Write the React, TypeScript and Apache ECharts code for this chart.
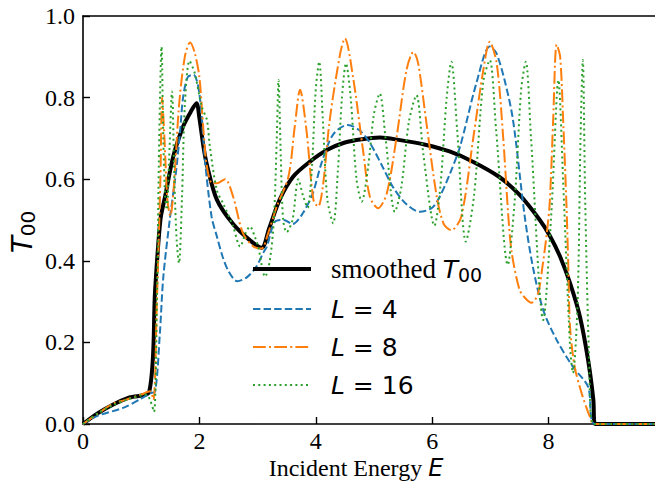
import React, { useEffect, useRef } from 'react';
import * as echarts from 'echarts';

const xTicks = [0, 2, 4, 6, 8];
const yTicks = [0, 0.2, 0.4, 0.6, 0.8, 1.0];

const smoothedT00 = [
  [0, 0], [0.25, 0.026], [0.52, 0.048], [0.8, 0.065], [1.14, 0.08], [1.24, 0.33], [1.33, 0.5],
  [1.41, 0.557], [1.55, 0.655], [1.72, 0.729], [1.85, 0.765], [1.95, 0.786], [2.0, 0.75],
  [2.07, 0.68], [2.13, 0.635], [2.3, 0.55], [2.58, 0.49], [2.87, 0.45], [3.07, 0.432],
  [3.2, 0.48], [3.38, 0.55], [3.61, 0.606], [3.9, 0.643], [4.2, 0.672], [4.5, 0.69],
  [4.8, 0.698], [5.1, 0.702], [5.4, 0.697], [5.9, 0.684], [6.3, 0.668], [6.7, 0.643],
  [7.15, 0.606], [7.5, 0.562], [7.85, 0.5], [8.02, 0.462], [8.2, 0.41], [8.37, 0.345],
  [8.54, 0.263], [8.68, 0.157], [8.77, 0.06], [8.8, 0], [9.83, 0],
];

const L4 = [
  [0, 0], [0.25, 0.02], [0.7, 0.04], [1.0, 0.062], [1.15, 0.075], [1.24, 0.08], [1.32, 0.22],
  [1.38, 0.36], [1.49, 0.5], [1.6, 0.62], [1.67, 0.72], [1.72, 0.8], [1.8, 0.85], [1.9, 0.856],
  [2.0, 0.81], [2.1, 0.64], [2.21, 0.508], [2.3, 0.46], [2.4, 0.41], [2.5, 0.375], [2.65, 0.35],
  [2.82, 0.36], [2.98, 0.386], [3.1, 0.42], [3.16, 0.435], [3.3, 0.496], [3.45, 0.5], [3.6, 0.49],
  [3.78, 0.517], [3.95, 0.566], [4.1, 0.64], [4.3, 0.71], [4.55, 0.733], [4.75, 0.72],
  [4.93, 0.689], [5.15, 0.63], [5.33, 0.58], [5.55, 0.54], [5.79, 0.52], [6.0, 0.53],
  [6.13, 0.557], [6.31, 0.615], [6.48, 0.68], [6.76, 0.835], [6.99, 0.925], [7.1, 0.91],
  [7.25, 0.84], [7.39, 0.745], [7.59, 0.51], [7.73, 0.386], [7.91, 0.279], [8.14, 0.206],
  [8.42, 0.14], [8.68, 0.091], [8.8, 0], [9.83, 0],
];

const L8 = [
  [0, 0], [0.25, 0.025], [0.52, 0.05], [0.7, 0.058], [1.0, 0.072], [1.15, 0.08], [1.21, 0.059],
  [1.27, 0.3], [1.33, 0.6], [1.36, 0.8], [1.4, 0.7], [1.45, 0.55], [1.5, 0.51], [1.56, 0.58],
  [1.65, 0.78], [1.75, 0.9], [1.84, 0.935], [1.92, 0.91], [2.0, 0.85], [2.07, 0.72], [2.13, 0.63],
  [2.22, 0.59], [2.3, 0.59], [2.44, 0.6], [2.58, 0.557], [2.75, 0.467], [2.93, 0.435],
  [3.07, 0.43], [3.18, 0.467], [3.33, 0.533], [3.53, 0.606], [3.64, 0.73], [3.73, 0.819],
  [3.84, 0.72], [3.96, 0.549], [4.04, 0.533], [4.12, 0.58], [4.24, 0.745], [4.42, 0.908],
  [4.5, 0.945], [4.64, 0.851], [4.82, 0.663], [4.93, 0.557], [5.07, 0.529], [5.22, 0.565],
  [5.39, 0.704], [5.56, 0.868], [5.68, 0.912], [5.76, 0.884], [5.91, 0.729], [6.08, 0.557],
  [6.2, 0.49], [6.33, 0.475], [6.5, 0.508], [6.71, 0.704], [6.88, 0.868], [6.99, 0.937],
  [7.11, 0.884], [7.22, 0.704], [7.31, 0.508], [7.37, 0.418], [7.5, 0.33], [7.59, 0.31],
  [7.71, 0.297], [7.82, 0.32], [7.9, 0.39], [7.97, 0.467], [8.02, 0.54], [8.08, 0.745],
  [8.14, 0.93], [8.2, 0.9], [8.25, 0.75], [8.31, 0.53], [8.34, 0.386], [8.37, 0.238],
  [8.45, 0.14], [8.57, 0.075], [8.71, 0.018], [8.78, 0], [9.83, 0],
];

const L16 = [
  [0, 0], [0.25, 0.026], [0.5, 0.045], [0.8, 0.062], [1.0, 0.07], [1.09, 0.072], [1.15, 0.06],
  [1.22, 0.03], [1.27, 0.3], [1.31, 0.7], [1.35, 0.925], [1.38, 0.7], [1.41, 0.56], [1.44, 0.525],
  [1.48, 0.65], [1.53, 0.815], [1.57, 0.6], [1.61, 0.45], [1.65, 0.394], [1.7, 0.55], [1.75, 0.78],
  [1.83, 0.89], [1.92, 0.86], [2.04, 0.778], [2.13, 0.745], [2.18, 0.68], [2.3, 0.573],
  [2.41, 0.54], [2.58, 0.484], [2.7, 0.435], [2.8, 0.47], [2.87, 0.484], [2.95, 0.46],
  [3.01, 0.435], [3.13, 0.361], [3.21, 0.4], [3.28, 0.5], [3.33, 0.7], [3.36, 0.843], [3.4, 0.65],
  [3.44, 0.5], [3.5, 0.47], [3.6, 0.5], [3.7, 0.6], [3.78, 0.56], [3.86, 0.53], [3.93, 0.62],
  [4.0, 0.82], [4.06, 0.888], [4.12, 0.75], [4.2, 0.55], [4.3, 0.492], [4.38, 0.62], [4.45, 0.8],
  [4.52, 0.884], [4.6, 0.8], [4.7, 0.6], [4.79, 0.545], [4.9, 0.63], [5.0, 0.76], [5.1, 0.81],
  [5.2, 0.7], [5.36, 0.52], [5.47, 0.58], [5.6, 0.74], [5.73, 0.806], [5.85, 0.66], [6.04, 0.486],
  [6.14, 0.58], [6.25, 0.8], [6.33, 0.888], [6.43, 0.72], [6.58, 0.447], [6.72, 0.56],
  [6.88, 0.84], [6.99, 0.892], [7.1, 0.72], [7.3, 0.39], [7.42, 0.55], [7.53, 0.82],
  [7.61, 0.888], [7.7, 0.7], [7.91, 0.255], [8.05, 0.52], [8.17, 0.843], [8.25, 0.6],
  [8.37, 0.19], [8.42, 0.125], [8.5, 0.3], [8.55, 0.7], [8.59, 0.892], [8.63, 0.55],
  [8.7, 0.15], [8.77, 0], [9.83, 0],
];

const legendLabels = ['smoothed ', 'L', 'L', 'L'];
const legendValues = ['', ' = 4', ' = 8', ' = 16'];

const SERIF = '"Liberation Serif", "Times New Roman", serif';
const MATH = '"DejaVu Sans", sans-serif';

export default function App() {
  const ref = useRef<HTMLDivElement>(null);
  useEffect(() => {
    const chart = echarts.init(ref.current as HTMLDivElement, null, { renderer: 'svg' });
    const X0 = 83;
    const legendX1 = 253;
    const legendX2 = 311;
    const legendTextX = 331;
    const rowsY = [269, 309, 347, 385];
    const colors = ['#000000', '#1f77b4', '#ff7f0e', '#2ca02c'];
    const dashes: any[] = [null, [7.4, 3.2], [12.8, 3.2, 2, 3.2], [2, 3.3]];
    const widths = [4, 2, 2, 2];

    const legendGraphics: any[] = [];
    rowsY.forEach((y, i) => {
      legendGraphics.push({
        type: 'line',
        shape: { x1: legendX1, y1: y, x2: legendX2, y2: y },
        style: { stroke: colors[i], lineWidth: widths[i], lineDash: dashes[i] || undefined },
        z: 100,
      });
      const text =
        i === 0
          ? `{s|${legendLabels[0]}}{m|T}{sub|00}`
          : `{m|${legendLabels[i]}}{r|${legendValues[i]}}`;
      legendGraphics.push({
        type: 'text',
        x: legendTextX,
        y: y,
        style: {
          text,
          verticalAlign: 'middle',
          align: 'left',
          fill: '#000',
          rich: {
            s: { fontFamily: SERIF, fontSize: 27, lineHeight: 30, fill: '#000', verticalAlign: 'middle' },
            m: { fontFamily: MATH, fontStyle: 'italic', fontSize: 25, lineHeight: 30, fill: '#000', verticalAlign: 'middle' },
            r: { fontFamily: MATH, fontSize: 25, lineHeight: 30, fill: '#000', verticalAlign: 'middle' },
            sub: { fontFamily: MATH, fontSize: 19, lineHeight: 16, fill: '#000', verticalAlign: 'bottom' },
          },
        },
        z: 100,
      });
    });

    const mkSeries = (name: string, data: number[][], i: number) => ({
      name,
      type: 'line',
      data,
      showSymbol: false,
      smooth: 0.3,
      clip: true,
      lineStyle: { color: colors[i], width: widths[i], type: dashes[i] || 'solid', cap: 'butt' },
      itemStyle: { color: colors[i] },
      z: 2 + i,
    });

    chart.setOption({
      animation: false,
      backgroundColor: '#ffffff',
      grid: { left: X0, top: 16, right: 0, bottom: 63, containLabel: false },
      xAxis: [
        {
          type: 'value',
          min: 0,
          max: 9.83,
          axisLine: { show: true, onZero: false, lineStyle: { color: '#000', width: 1.6 } },
          axisTick: { show: true, inside: true, length: 7, customValues: xTicks, lineStyle: { color: '#000', width: 1.4 } },
          axisLabel: {
            show: true,
            customValues: xTicks,
            formatter: (v: number) => String(v),
            fontFamily: SERIF,
            fontSize: 24,
            lineHeight: 20,
            color: '#000',
            margin: 7,
          },
          splitLine: { show: false },
        },
        {
          type: 'value',
          position: 'top',
          min: 0,
          max: 9.83,
          axisLine: { show: true, onZero: false, lineStyle: { color: '#000', width: 1.6 } },
          axisTick: { show: false },
          axisLabel: { show: false },
          splitLine: { show: false },
        },
      ],
      yAxis: {
        type: 'value',
        min: 0,
        max: 1,
        axisLine: { show: true, onZero: false, lineStyle: { color: '#000', width: 1.6 } },
        axisTick: { show: true, inside: true, length: 7, customValues: yTicks, lineStyle: { color: '#000', width: 1.4 } },
        axisLabel: {
          show: true,
          customValues: yTicks,
          formatter: (v: number) => v.toFixed(1),
          fontFamily: SERIF,
          fontSize: 24,
          lineHeight: 20,
          color: '#000',
          margin: 8,
        },
        splitLine: { show: false },
      },
      series: [
        mkSeries('smoothed T00', smoothedT00, 0),
        mkSeries('L = 4', L4, 1),
        mkSeries('L = 8', L8, 2),
        mkSeries('L = 16', L16, 3),
      ],
      graphic: [
        ...legendGraphics,
        {
          type: 'text',
          x: 356,
          y: 468,
          style: {
            text: '{s|Incident Energy }{m|E}',
            align: 'center',
            verticalAlign: 'middle',
            rich: {
              s: { fontFamily: SERIF, fontSize: 24, fill: '#000', lineHeight: 22 },
              m: { fontFamily: MATH, fontStyle: 'italic', fontSize: 24, fill: '#000', lineHeight: 22 },
            },
          },
        },
        {
          type: 'text',
          x: 22,
          y: 232,
          rotation: Math.PI / 2,
          style: {
            text: '{m|T}{sub|00}',
            align: 'center',
            verticalAlign: 'middle',
            rich: {
              m: { fontFamily: MATH, fontStyle: 'italic', fontSize: 28, fill: '#000', lineHeight: 32, verticalAlign: 'middle' },
              sub: { fontFamily: MATH, fontSize: 20, fill: '#000', lineHeight: 16, verticalAlign: 'bottom' },
            },
          },
        },
      ],
    });
    return () => chart.dispose();
  }, []);
  return (
    <div
      ref={ref}
      style={{ position: 'fixed', left: 0, top: 0, width: 655, height: 487, background: '#fff' }}
    />
  );
}
